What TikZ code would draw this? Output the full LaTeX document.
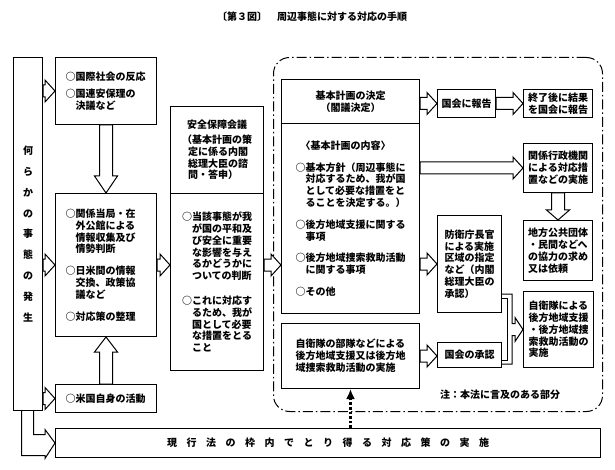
\documentclass[tikz,border=0pt]{standalone}
\usepackage{fontspec}
\setmainfont{Noto Sans CJK JP}
\usetikzlibrary{arrows.meta, positioning, calc}

% hollow block arrow, left to right, at the height of the first point
\newcommand{\hollowright}[2]{%
  \draw[hollow] let \p1=#1, \p2=#2 in
    (\x1,{\y1+6pt}) -- ({\x2-10pt},{\y1+6pt}) -- ({\x2-10pt},{\y1+11pt})
    -- (\x2,\y1) -- ({\x2-10pt},{\y1-11pt}) -- ({\x2-10pt},{\y1-6pt})
    -- (\x1,{\y1-6pt}) -- cycle;}
% hollow block arrow, up or down, head length as third argument
\newcommand{\hollowvert}[3]{%
  \draw[hollow] let \p1=#1, \p2=#2, \n1={sign(\y2-(\y1))} in
    ({\x1-6.5pt},\y1) -- ({\x1-6.5pt},{\y2-(\n1)*#3}) -- ({\x1-11.5pt},{\y2-(\n1)*#3})
    -- (\x1,\y2) -- ({\x1+11.5pt},{\y2-(\n1)*#3}) -- ({\x1+6.5pt},{\y2-(\n1)*#3})
    -- ({\x1+6.5pt},\y1) -- cycle;}

\begin{document}
\begin{tikzpicture}[
  x=1pt, y=-1pt,
  every node/.style={font=\bfseries\fontsize{10}{11.8}\selectfont},
  box/.style={draw, rectangle, line width=1pt, anchor=north west, inner sep=0pt, align=left},
  zone/.style={draw, rectangle, line width=1pt, rounded corners=16pt, dash pattern=on 10pt off 3pt on 1.5pt off 3pt, anchor=north west, inner sep=0pt},
  hollow/.style={draw, line width=1pt, fill=white},
  hollowline/.style={draw, line width=1pt},
  dotarrow/.style={line width=2.6pt, dash pattern=on 2.6pt off 2pt, -{Latex[length=10pt, width=9pt]}}
]
\fill[white] (0,0) rectangle (615,470);
\useasboundingbox (0,0) rectangle (615,470);

% Title
\node (title) at (312,17) {〔第３図〕　周辺事態に対する対応の手順};

% Left column
\node[box, minimum width=29pt, minimum height=353pt, align=center, font=\bfseries\fontsize{10}{20.8}\selectfont] (occur) at (13,57) {何\\ら\\か\\の\\事\\態\\の\\発\\生};
\node[box, minimum width=101pt, minimum height=67pt, text width=81pt] (world) at (55,57) {○国際社会の反応\\[5pt]○国連安保理の\\　決議など};
\node[box, minimum width=101pt, minimum height=143pt, text width=81pt] (intel) at (55,193) {○関係当局・在\\　外公館による\\　情報収集及び\\　情勢判断\\[10pt]○日米間の情報\\　交換、政策協\\　議など\\[10pt]○対応策の整理};
\node[box, minimum width=101pt, minimum height=28pt, text width=81pt] (usact) at (55,384) {○米国自身の活動};

% Security council
\node[box, minimum width=93pt, minimum height=87pt] (council) at (170,106) {\hspace*{.5em}安全保障会議\\[3pt]（基本計画の策\\\hspace*{.6em}定に係る内閣\\\hspace*{.6em}総理大臣の諮\\\hspace*{.6em}問・答申）};
\node[box, minimum width=93pt, minimum height=177pt] (judge) at (170,193) {○当該事態が我\\　が国の平和及\\　び安全に重要\\　な影響を与え\\　るかどうかに\\　ついての判断\\[13pt]○これに対応す\\　るため、我が\\　国として必要\\　な措置をとる\\　こと};

% Part covered by the law
\node[zone, minimum width=329pt, minimum height=354pt] (law) at (273,57) {};
\node[box, minimum width=138pt, minimum height=44pt, align=center] (plan) at (281,79) {基本計画の決定\\（閣議決定）};
\node[box, minimum width=138pt, minimum height=190pt] (content) at (281,123) {\hspace*{.5em}〈基本計画の内容〉\\[10pt]○基本方針（周辺事態に\\　対応するため、我が国\\　として必要な措置をと\\　ることを決定する。）\\[10pt]○後方地域支援に関する\\　事項\\[10pt]○後方地域捜索救助活動\\　に関する事項\\[10pt]○その他};
\node[box, minimum width=138pt, minimum height=65pt] (sdf) at (281,323) {自衛隊の部隊などによる\\後方地域支援又は後方地\\域捜索救助活動の実施};

\node[box, minimum width=58pt, minimum height=28pt, align=center] (report) at (437,89) {国会に報告};
\node[box, minimum width=69pt, minimum height=28pt, align=center] (final) at (523,89) {終了後に結果\\を国会に報告};
\node[box, minimum width=69pt, minimum height=49pt, align=center] (agency) at (523,143) {関係行政機関\\による対応措\\置などの実施};
\node[box, minimum width=69pt, minimum height=60pt] (local) at (523,220) {地方公共団体\\・民間などへ\\の協力の求め\\又は依頼};
\node[box, minimum width=64pt, minimum height=97pt] (area) at (437,215) {防衛庁長官\\による実施\\区域の指定\\など（内閣\\総理大臣の\\承認）};
\node[box, minimum width=70pt, minimum height=76pt] (support) at (523,291) {自衛隊による\\後方地域支援\\・後方地域捜\\索救助活動の\\実施};
\node[box, minimum width=64pt, minimum height=25pt, align=center] (approve) at (437,342) {国会の承認};
\node (note) at (500,395) {注：本法に言及のある部分};

% Bottom row
\node[box, minimum width=545pt, minimum height=29pt, align=center] (measure) at (55,428) {現\hspace{9.5pt}行\hspace{9.5pt}法\hspace{9.5pt}の\hspace{9.5pt}枠\hspace{9.5pt}内\hspace{9.5pt}で\hspace{9.5pt}と\hspace{9.5pt}り\hspace{9.5pt}得\hspace{9.5pt}る\hspace{9.5pt}対\hspace{9.5pt}応\hspace{9.5pt}策\hspace{9.5pt}の\hspace{9.5pt}実\hspace{9.5pt}施};

% Arrows on the left
\hollowright{(occur.east |- world.west)}{(world.west)}
\hollowright{(occur.east |- intel.west)}{(intel.west)}
\hollowright{(occur.east |- usact.west)}{(usact.west)}
\hollowvert{(world.south)}{(intel.north)}{17pt}
\hollowvert{(usact.north)}{(intel.south)}{15pt}
\hollowright{(intel.east)}{(judge.west |- intel.east)}
\hollowright{(judge.east |- intel.east)}{(content.west |- intel.east)}

% Arrows inside the law part
\hollowright{(plan.east |- report.west)}{(report.west)}
\hollowright{(report.east)}{(final.west |- report.east)}
\hollowright{(content.east |- agency.west)}{(agency.west)}
\hollowvert{(agency.south)}{(local.north)}{10pt}
\hollowright{(content.east |- area.west)}{(area.west)}
\hollowright{(sdf.east)}{(approve.west |- sdf.east)}

% area and approval together to support
\draw[hollowline] let \p1=(area.south east), \p2=(approve.south east), \p3=(support.west) in
  (\x1,{\y1+19pt}) -- ({\x1+10pt},{\y1+19pt}) -- ({\x1+10pt},{\y3+6pt}) -- ({\x3-8pt},{\y3+6pt})
  -- ({\x3-8pt},{\y3+12pt}) -- (\x3,\y3) -- ({\x3-8pt},{\y3-12pt}) -- ({\x3-8pt},{\y3-6pt})
  -- ({\x1+10pt},{\y3-6pt}) -- ({\x1+10pt},{\y2+4pt}) -- (\x2,{\y2+4pt});
\draw[hollowline] let \p1=(area.south east), \p2=(approve.south east) in
  (\x1,{\y1+15pt}) -- ({\x1+5pt},{\y1+15pt}) -- ({\x1+5pt},{\y2+8pt}) -- (\x2,{\y2+8pt});

% Bent arrow to the bottom row
\draw[hollowline] let \p1=(occur.south), \p2=(measure.west) in
  ({\x1-6.5pt},\y1) -- ({\x1-6.5pt},{\y2-12.5pt}) -- ({\x2-10pt},{\y2-12.5pt}) -- ({\x2-10pt},{\y2-15.5pt})
  -- (\x2,\y2) -- ({\x2-10pt},{\y2+13.5pt}) -- ({\x2-10pt},{\y2+8.5pt}) -- ({\x1+5.5pt},{\y2+8.5pt})
  -- ({\x1+5.5pt},\y1);

\draw[dotarrow] (measure.north -| sdf.south) -- (sdf.south);

\end{tikzpicture}
\end{document}
